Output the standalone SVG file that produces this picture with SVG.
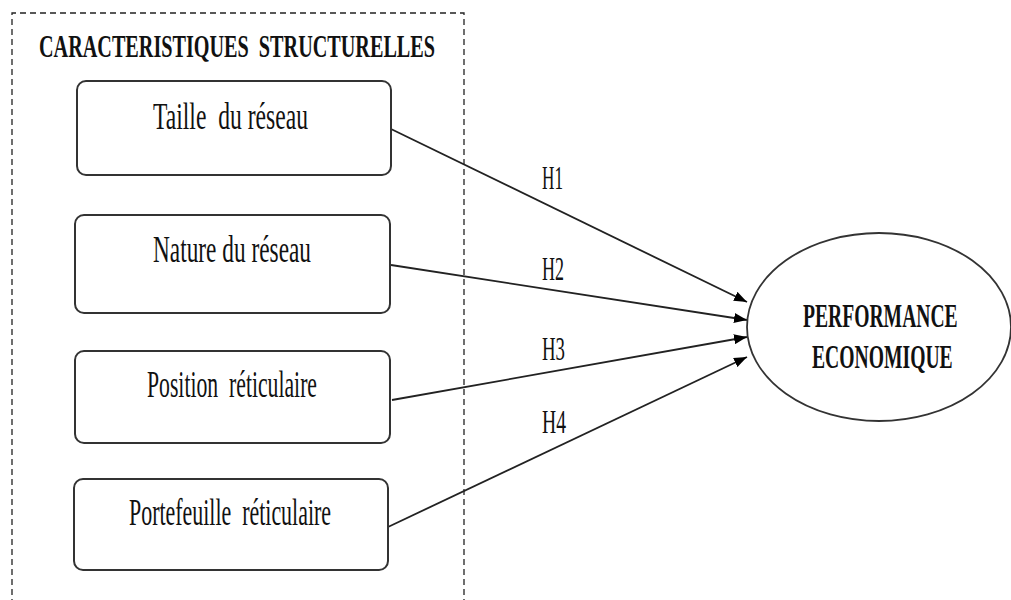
<svg xmlns="http://www.w3.org/2000/svg" width="1011" height="600" viewBox="0 0 1011 600">
<style>
.frame{fill:none;stroke:#222;stroke-width:1.3;stroke-dasharray:6,4}
.box{fill:#fff;stroke:#333;stroke-width:2}
.t{font-family:"Liberation Serif",serif;fill:#111;white-space:pre}
.lab{font-size:38px}
.h{font-size:33px}
.b{font-size:33px;font-weight:bold}
.edge{stroke:#222;stroke-width:1.8;fill:none}
</style>
<defs>
<marker id="arr" markerUnits="userSpaceOnUse" markerWidth="14" markerHeight="10" refX="13" refY="5" orient="auto">
<path d="M0,0 L13,5 L0,10 z" fill="#000"/>
</marker>
</defs>
<rect width="1011" height="600" fill="#fff"/>
<g id="frame">
<path class="frame" d="M12,605 L12,13 L464,13 L464,605"/>
<text class="t" x="39" y="57" font-size="32" font-weight="bold" textLength="396" lengthAdjust="spacingAndGlyphs" xml:space="preserve">CARACTERISTIQUES  STRUCTURELLES</text>
</g>
<g id="connectors">
<line class="edge" x1="391" y1="129" x2="747" y2="302" marker-end="url(#arr)"/>
<line class="edge" x1="391" y1="265" x2="747" y2="320" marker-end="url(#arr)"/>
<line class="edge" x1="392" y1="400" x2="747" y2="337" marker-end="url(#arr)"/>
<line class="edge" x1="388" y1="527" x2="747" y2="357" marker-end="url(#arr)"/>
<text class="t h" x="542" y="189" textLength="21" lengthAdjust="spacingAndGlyphs">H1</text>
<text class="t h" x="542" y="280" textLength="22" lengthAdjust="spacingAndGlyphs">H2</text>
<text class="t h" x="542" y="360" textLength="23" lengthAdjust="spacingAndGlyphs">H3</text>
<text class="t h" x="542" y="433" textLength="24" lengthAdjust="spacingAndGlyphs">H4</text>
</g>
<g id="taille">
<rect class="box" x="77" y="81" width="314" height="94" rx="9"/>
<text class="t lab" x="153" y="129" textLength="155" lengthAdjust="spacingAndGlyphs" xml:space="preserve">Taille  du réseau</text>
</g>
<g id="nature">
<rect class="box" x="75" y="215" width="315" height="98" rx="9"/>
<text class="t lab" x="153" y="262" textLength="158" lengthAdjust="spacingAndGlyphs">Nature du réseau</text>
</g>
<g id="position">
<rect class="box" x="75" y="351" width="315" height="92" rx="9"/>
<text class="t lab" x="147" y="397" textLength="170" lengthAdjust="spacingAndGlyphs" xml:space="preserve">Position  réticulaire</text>
</g>
<g id="portefeuille">
<rect class="box" x="74" y="479" width="314" height="91" rx="9"/>
<text class="t lab" x="129" y="525" textLength="202" lengthAdjust="spacingAndGlyphs" xml:space="preserve">Portefeuille  réticulaire</text>
</g>
<g id="performance">
<ellipse cx="879" cy="327" rx="132" ry="94" fill="#fff" stroke="#333" stroke-width="1.8"/>
<text class="t b" transform="translate(803,327) scale(0.7,1)" x="0" y="0" textLength="221" lengthAdjust="spacingAndGlyphs">PERFORMANCE</text>
<text class="t b" transform="translate(812,368) scale(0.7,1)" x="0" y="0" textLength="201" lengthAdjust="spacingAndGlyphs">ECONOMIQUE</text>
</g>
</svg>
